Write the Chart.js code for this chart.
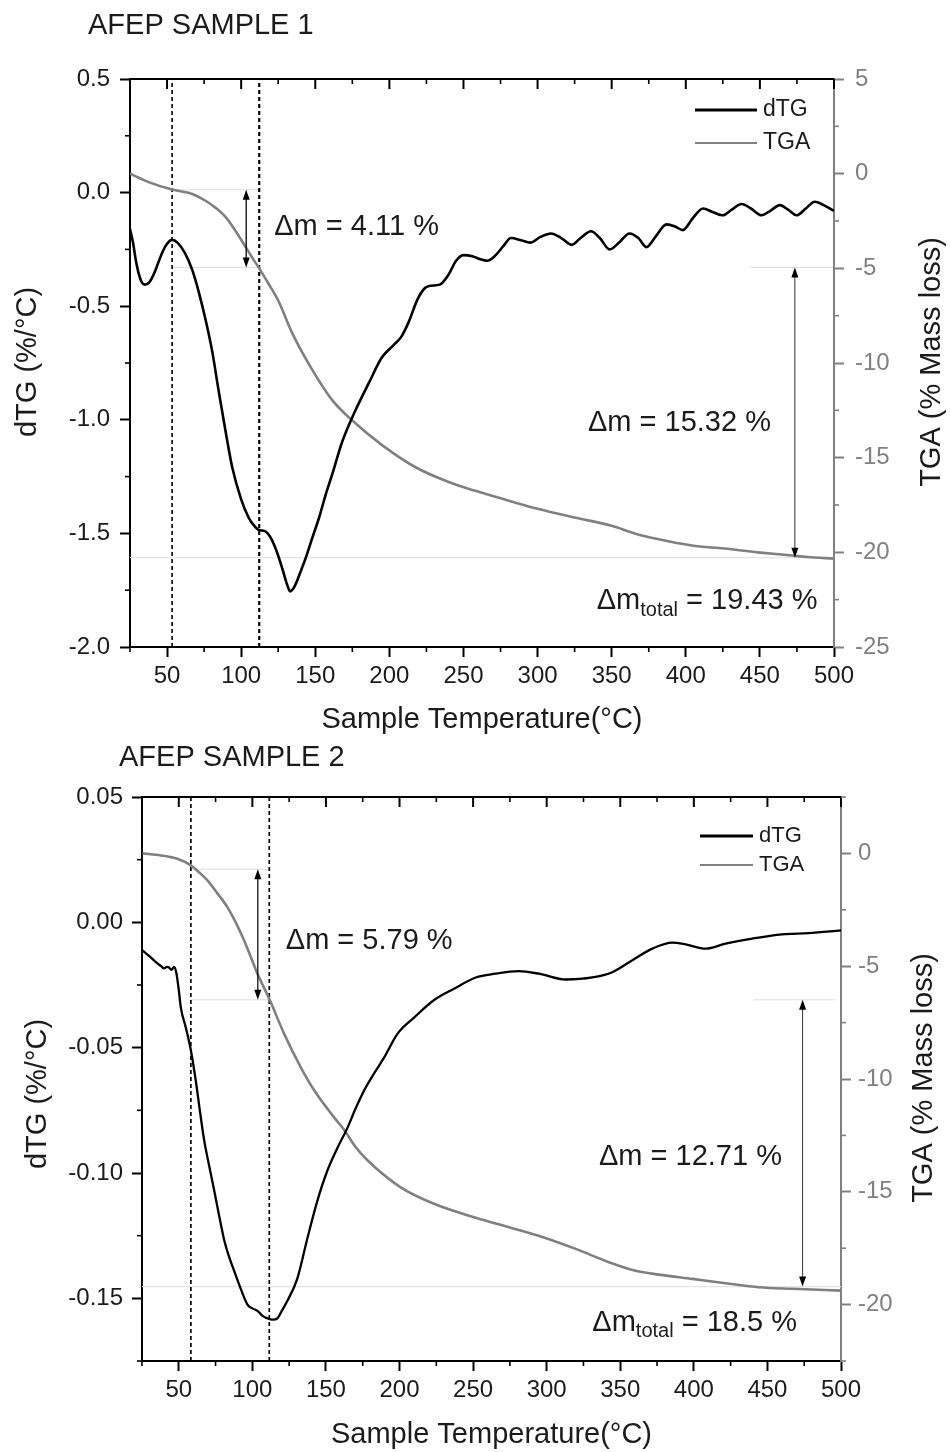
<!DOCTYPE html>
<html>
<head>
<meta charset="utf-8">
<title>AFEP thermogravimetry</title>
<script src="https://cdn.jsdelivr.net/npm/chart.js@4.4.1/dist/chart.umd.min.js"></script>
<style>
  html, body { margin: 0; padding: 0; background: #fff; }
  #wrap { position: relative; width: 950px; height: 1452px; }
  .panel { position: absolute; left: 0; width: 950px; }
  #p1 { top: 0; height: 740px; }
  #p2 { top: 740px; height: 712px; }
</style>
</head>
<body>
<div id="wrap">
  <div class="panel" id="p1"><canvas id="c1" width="950" height="740"></canvas></div>
  <div class="panel" id="p2"><canvas id="c2" width="950" height="712"></canvas></div>
</div>
<script>
// ---------- shared axis values ----------
const seriesNames = ['dTG', 'TGA'];
const xTickValues = [50, 100, 150, 200, 250, 300, 350, 400, 450, 500];
const xMinorValues = [25, 75, 125, 175, 225, 275, 325, 375, 425, 475];

// ---------- AFEP sample 1 ----------
const dtg1Temp = [25, 27, 29, 31, 33, 35, 38, 41, 44, 47, 50, 53.4, 57, 62, 67, 71.5, 76, 80.5, 85, 90,
  94, 100, 105, 108, 112, 116, 120, 124, 128, 131, 133, 135, 137, 140, 144, 148, 152.6, 157, 161.7, 168,
  177, 186, 195, 203, 208, 213, 219, 224, 228, 234, 240, 245, 250, 256, 262, 266, 271, 277, 282, 289,
  295, 302, 309, 316, 323, 329, 336, 342, 348.6, 355, 362, 368, 373.4, 380, 387, 393, 398, 405, 411.7, 418,
  425, 431, 437.6, 444, 451, 457, 463.5, 469, 474.8, 481, 487, 493, 500];
const dtg1Value = [-0.16, -0.22, -0.30, -0.36, -0.395, -0.405, -0.395, -0.36, -0.31, -0.26, -0.225, -0.208, -0.22, -0.265, -0.34, -0.44, -0.56, -0.70, -0.88, -1.07,
  -1.21, -1.35, -1.43, -1.46, -1.485, -1.49, -1.52, -1.58, -1.66, -1.725, -1.755, -1.745, -1.72, -1.67, -1.60, -1.52, -1.43, -1.33, -1.235, -1.10,
  -0.96, -0.84, -0.725, -0.67, -0.635, -0.57, -0.47, -0.42, -0.41, -0.405, -0.36, -0.30, -0.275, -0.28, -0.295, -0.30, -0.28, -0.235, -0.20, -0.21,
  -0.22, -0.195, -0.18, -0.20, -0.23, -0.20, -0.17, -0.20, -0.25, -0.22, -0.18, -0.20, -0.24, -0.19, -0.14, -0.15, -0.165, -0.11, -0.07, -0.085,
  -0.10, -0.075, -0.05, -0.07, -0.10, -0.08, -0.055, -0.075, -0.10, -0.07, -0.04, -0.055, -0.08];
const tga1Temp = [25, 38, 53.4, 67, 76, 83, 89.7, 96, 103.2, 108, 112.2, 118, 125, 134.7, 147, 161.7, 175, 195.3, 218, 240.5,
  257.4, 280, 300, 325, 350, 365.5, 381, 404, 426, 448.6, 471.6, 482, 500];
const tga1Value = [0, -0.46, -0.84, -1.07, -1.43, -1.82, -2.31, -3.0, -3.89, -4.5, -5.0, -5.75, -6.7, -8.46, -10.23, -11.99, -13.04, -14.35, -15.52, -16.3,
  -16.74, -17.26, -17.7, -18.16, -18.6, -19.0, -19.3, -19.64, -19.8, -20.0, -20.17, -20.25, -20.33];
const dtg1Ticks = [-2, -1.5, -1, -0.5, 0, 0.5];
const dtg1Minor = [-1.75, -1.25, -0.75, -0.25, 0.25];
const tga1Ticks = [-25, -20, -15, -10, -5, 0, 5];
const tga1Minor = [-22.5, -17.5, -12.5, -7.5, -2.5, 2.5];
const step1Temps = [53.4, 112.2];   // onset / end of the first mass-loss step
const step1Start = -0.85;           // TGA level at the first onset
const massLoss1 = [4.11, 15.32, 19.43];

// ---------- AFEP sample 2 ----------
const dtg2Temp = [25.3, 30, 35.5, 38, 40, 42, 43.3, 45, 46.8, 48.4, 50, 51.4, 54.8, 58.2, 61.5, 64.3, 67.2, 70.6, 74, 77.4,
  80.8, 84.2, 87.6, 92, 96.7, 100, 103.5, 107, 110.3, 114, 117, 120, 123.8, 130.6, 137.4, 144.2, 151, 157.8, 164.6, 170,
  176, 183, 189.5, 198.6, 209.9, 223.5, 237, 251.8, 265, 281, 294.8, 313, 331, 344.6, 358, 371.8, 385.4, 394.4, 408, 421.6,
  439.7, 460, 478, 500];
const dtg2Value = [-0.0112, -0.0135, -0.0164, -0.0175, -0.0184, -0.0178, -0.018, -0.019, -0.0178, -0.0204, -0.027, -0.034, -0.042, -0.051, -0.063, -0.075, -0.0868, -0.097, -0.1068, -0.117,
  -0.1266, -0.1335, -0.139, -0.146, -0.1525, -0.154, -0.155, -0.157, -0.158, -0.1585, -0.158, -0.155, -0.151, -0.142, -0.126, -0.111, -0.099, -0.090, -0.082, -0.0745,
  -0.067, -0.060, -0.054, -0.0445, -0.038, -0.031, -0.0265, -0.022, -0.0205, -0.0195, -0.0205, -0.0228, -0.022, -0.0199, -0.0152, -0.0105, -0.0081, -0.0088, -0.0105, -0.0085,
  -0.0065, -0.0048, -0.0043, -0.0032];
const tga2Temp = [25.3, 37.8, 49, 58.2, 64, 69.5, 76, 83, 89, 94.4, 99, 103.5, 112, 121.6, 132.9, 142, 155.5, 162.3, 170, 178.2,
  200.8, 223.4, 251.8, 274.4, 297, 319.7, 342.3, 360.5, 376.3, 399, 421.6, 444.2, 466.9, 500];
const tga2Value = [0, -0.09, -0.24, -0.53, -0.85, -1.2, -1.75, -2.38, -3.1, -3.86, -4.6, -5.34, -6.52, -8.0, -9.48, -10.5, -11.7, -12.25, -13.0, -13.6,
  -14.8, -15.53, -16.15, -16.57, -17.0, -17.53, -18.12, -18.5, -18.67, -18.86, -19.05, -19.23, -19.3, -19.38];
const dtg2Ticks = [-0.15, -0.1, -0.05, 0, 0.05];
const dtg2Minor = [-0.175, -0.125, -0.075, -0.025, 0.025];
const tga2Ticks = [-20, -15, -10, -5, 0];
const tga2Minor = [-22.5, -17.5, -12.5, -7.5, -2.5, 2.5];
const step2Temps = [58.2, 111.5];
const step2Start = -0.7;
const massLoss2 = [5.79, 12.71, 18.5];

// ---------- drawing ----------
const FONT = '"Liberation Sans", Arial, Helvetica, sans-serif';
const INK = '#1b1b1b';
const GREY = '#808080';
const TITLE_PX = 29;
Chart.defaults.font.family = FONT;
Chart.defaults.color = INK;

const pts = (xs, ys) => xs.map((x, i) => ({ x, y: ys[i] }));

function decorFor(spec) {
  return {
    id: 'decor',
    afterDraw(chart) {
      const { ctx, chartArea: ca } = chart;
      const sx = chart.scales.x, sy = chart.scales.y, sr = chart.scales.y2;
      const seg = (x1, y1, x2, y2, color, w) => {
        ctx.beginPath(); ctx.strokeStyle = color; ctx.lineWidth = w;
        ctx.moveTo(x1, y1); ctx.lineTo(x2, y2); ctx.stroke();
      };
      const head = (x, y, dir) => {
        ctx.beginPath(); ctx.fillStyle = '#000';
        ctx.moveTo(x, y); ctx.lineTo(x - 3.5, y - dir * 10); ctx.lineTo(x + 3.5, y - dir * 10);
        ctx.closePath(); ctx.fill();
      };
      ctx.save();
      // top frame with inward ticks
      seg(ca.left - 1, ca.top, ca.right, ca.top, '#000', 2);
      xTickValues.forEach(v => { const p = sx.getPixelForValue(v); seg(p, ca.top, p, ca.top + 10, '#000', 2); });
      xMinorValues.forEach(v => {
        const p = sx.getPixelForValue(v);
        seg(p, ca.top, p, ca.top + 5, '#000', 1.6);
        seg(p, ca.bottom, p, ca.bottom + 5, '#000', 1.6);
      });
      spec.leftMinor.forEach(v => { const p = sy.getPixelForValue(v); seg(ca.left - 5, p, ca.left, p, '#000', 1.6); });
      spec.rightMinor.forEach(v => { const p = sr.getPixelForValue(v); seg(ca.right, p, ca.right + 5, p, GREY, 1.6); });

      // mass-loss arrows
      const lv = spec.levels;
      spec.arrows.forEach((a, i) => {
        const px = sx.getPixelForValue(a.t);
        const y1 = sr.getPixelForValue(lv[i]), y2 = sr.getPixelForValue(lv[i + 1]);
        seg(px, y1 + 4, px, y2 - 4, a.color, a.w);
        head(px, y1, -1); head(px, y2, 1);
      });

      // mass-loss labels
      ctx.fillStyle = INK; ctx.textBaseline = 'middle'; ctx.textAlign = 'left';
      const big = TITLE_PX + 'px ' + FONT, small = '20px ' + FONT;
      spec.labels.forEach(l => {
        let x = sx.getPixelForValue(l.t);
        const y = sy.getPixelForValue(l.v);
        ctx.font = big;
        if (l.sub) {
          ctx.fillText('\u0394m', x, y); x += ctx.measureText('\u0394m').width;
          ctx.font = small; ctx.fillText(l.sub, x, y + 9); x += ctx.measureText(l.sub).width;
          ctx.font = big; ctx.fillText(' = ' + l.value + ' %', x, y);
        } else {
          ctx.fillText('\u0394m = ' + l.value + ' %', x, y);
        }
      });

      // legend
      const lg = spec.legend;
      ctx.font = lg.size + 'px ' + FONT;
      chart.data.datasets.forEach((ds, i) => {
        if (!seriesNames.includes(ds.label)) return;
        const y = ca.top + lg.rows[i];
        seg(ca.right - lg.lineFrom, y, ca.right - lg.lineTo, y, ds.borderColor, i === 0 ? 3 : 2.2);
        ctx.fillStyle = INK;
        ctx.fillText(ds.label, ca.right - lg.textAt, y);
      });

      // chart title
      ctx.font = TITLE_PX + 'px ' + FONT; ctx.fillStyle = INK;
      ctx.fillText(spec.title, spec.titleX, spec.titleY);

      // y-axis titles, both reading upward
      ctx.textAlign = 'center';
      [[spec.leftTitle, spec.leftTitleX, spec.leftTitleY], [spec.rightTitle, spec.rightTitleX, spec.rightTitleY]].forEach(([t, x, y]) => {
        ctx.save(); ctx.translate(x, y); ctx.rotate(-Math.PI / 2); ctx.fillText(t, 0, 0); ctx.restore();
      });
      ctx.restore();
    }
  };
}

function makeChart(id, spec) {
  const lv = spec.levels;
  const guide = (data, axis, color, w, dash) => ({
    label: '', data, yAxisID: axis, borderColor: color, borderWidth: w, borderDash: dash || [],
    pointRadius: 0, tension: 0, fill: false
  });
  const datasets = [
    { label: seriesNames[0], data: pts(spec.dtgT, spec.dtg), yAxisID: 'y', borderColor: '#000', borderWidth: spec.dtgWidth,
      pointRadius: 0, cubicInterpolationMode: 'monotone', fill: false },
    { label: seriesNames[1], data: pts(spec.tgaT, spec.tga), yAxisID: 'y2', borderColor: GREY, borderWidth: 2.6,
      pointRadius: 0, cubicInterpolationMode: 'monotone', fill: false },
    // step boundaries
    guide([{ x: spec.stepT[0], y: spec.yMin }, { x: spec.stepT[0], y: spec.yMax }], 'y', '#000', spec.dashWidth[0], [4, 3]),
    guide([{ x: spec.stepT[1], y: spec.yMin }, { x: spec.stepT[1], y: spec.yMax }], 'y', '#000', spec.dashWidth[1], [4, 3]),
    // TGA levels used for the mass-loss readings
    guide([{ x: spec.stepT[0], y: lv[0] }, { x: spec.stepT[1], y: lv[0] }], 'y2', '#dedede', 1),
    guide([{ x: spec.stepT[0], y: lv[1] }, { x: spec.stepT[1], y: lv[1] }], 'y2', '#dedede', 1),
    guide([{ x: spec.shelfFrom, y: lv[1] }, { x: spec.shelfTo, y: lv[1] }], 'y2', '#dedede', 1),
    guide([{ x: 25, y: lv[2] }, { x: 500, y: lv[2] }], 'y2', '#e4e4e4', 1.2)
  ];
  const tickFont = { family: FONT, size: 24 };
  return new Chart(document.getElementById(id), {
    type: 'line',
    data: { datasets },
    options: {
      responsive: false, animation: false, events: [],
      layout: { padding: { top: spec.padTop, left: 0, right: 0, bottom: 0 } },
      plugins: { legend: { display: false }, tooltip: { enabled: false }, title: { display: false } },
      scales: {
        x: {
          type: 'linear', position: 'bottom', min: 25, max: 500,
          afterBuildTicks: s => { s.ticks = xTickValues.map(v => ({ value: v })); },
          afterFit: s => { s.height = spec.xHeight; },
          ticks: { font: tickFont, color: INK, padding: 5, maxRotation: 0, autoSkip: false, callback: v => String(v) },
          grid: { drawOnChartArea: false, drawTicks: true, tickLength: 10, tickWidth: 2, tickColor: '#000' },
          border: { display: true, color: '#000', width: 2 },
          title: { display: true, text: 'Sample Temperature(°C)', font: { family: FONT, size: TITLE_PX }, color: INK,
                   padding: { top: 0, bottom: spec.xTitlePad } }
        },
        y: {
          type: 'linear', position: 'left', min: spec.yMin, max: spec.yMax,
          afterBuildTicks: s => { s.ticks = spec.yTicks.map(v => ({ value: v })); },
          afterFit: s => { s.width = spec.leftWidth; },
          ticks: { font: tickFont, color: INK, padding: spec.leftPad, autoSkip: false, callback: v => v.toFixed(spec.yDec) },
          grid: { drawOnChartArea: false, drawTicks: true, tickLength: 10, tickWidth: 2, tickColor: '#000' },
          border: { display: true, color: '#000', width: 2 }
        },
        y2: {
          type: 'linear', position: 'right', min: spec.y2Min, max: spec.y2Max,
          afterBuildTicks: s => { s.ticks = spec.y2Ticks.map(v => ({ value: v })); },
          afterFit: s => { s.width = spec.rightWidth; },
          ticks: { font: tickFont, color: GREY, padding: spec.rightPad, autoSkip: false, callback: v => String(v) },
          grid: { drawOnChartArea: false, drawTicks: true, tickLength: 10, tickWidth: 2, tickColor: GREY },
          border: { display: true, color: GREY, width: 2 }
        }
      }
    },
    plugins: [decorFor(spec)]
  });
}

const levels = (start, loss) => [start, start - loss[0], start - loss[0] - loss[1]];

makeChart('c1', {
  title: 'AFEP SAMPLE 1', titleX: 88, titleY: 26,
  dtgT: dtg1Temp, dtg: dtg1Value, tgaT: tga1Temp, tga: tga1Value, dtgWidth: 2.6,
  yMin: -2, yMax: 0.5, yTicks: dtg1Ticks, leftMinor: dtg1Minor, yDec: 1,
  y2Min: -25, y2Max: 5, y2Ticks: tga1Ticks, rightMinor: tga1Minor,
  stepT: step1Temps, levels: levels(step1Start, massLoss1), shelfFrom: 443, shelfTo: 499.3, dashWidth: [1.6, 2.2],
  arrows: [{ t: 103.4, color: '#000', w: 1.3 }, { t: 473.6, color: '#333', w: 1 }],
  labels: [
    { t: 122.3, v: -0.150, value: massLoss1[0] },
    { t: 334.0, v: -1.015, value: massLoss1[1] },
    { t: 339.9, v: -1.799, value: massLoss1[2], sub: 'total' }
  ],
  legend: { size: 23, rows: [31, 64], lineFrom: 139, lineTo: 77, textAt: 71 },
  padTop: 79, xHeight: 93, leftWidth: 130, rightWidth: 116, leftPad: 10, rightPad: 11, xTitlePad: 3,
  leftTitle: 'dTG (%/°C)', leftTitleX: 28, leftTitleY: 362,
  rightTitle: 'TGA (% Mass loss)', rightTitleX: 932, rightTitleY: 362
});

makeChart('c2', {
  title: 'AFEP SAMPLE 2', titleX: 119, titleY: 18,
  dtgT: dtg2Temp, dtg: dtg2Value, tgaT: tga2Temp, tga: tga2Value, dtgWidth: 2.3,
  yMin: -0.175, yMax: 0.05, yTicks: dtg2Ticks, leftMinor: dtg2Minor, yDec: 2,
  y2Min: -22.5, y2Max: 2.5, y2Ticks: tga2Ticks, rightMinor: tga2Minor,
  stepT: step2Temps, levels: levels(step2Start, massLoss2), shelfFrom: 440.6, shelfTo: 496.3, dashWidth: [1.7, 1.7],
  arrows: [{ t: 103.7, color: '#000', w: 1.2 }, { t: 473.9, color: '#333', w: 1 }],
  labels: [
    { t: 122.7, v: -0.0074, value: massLoss2[0] },
    { t: 335.5, v: -0.0935, value: massLoss2[1] },
    { t: 331.0, v: -0.1597, value: massLoss2[2], sub: 'total' }
  ],
  legend: { size: 22, rows: [39, 68], lineFrom: 141, lineTo: 88, textAt: 82 },
  padTop: 57, xHeight: 91, leftWidth: 142, rightWidth: 109, leftPad: 9, rightPad: 7, xTitlePad: 0,
  leftTitle: 'dTG (%/°C)', leftTitleX: 38, leftTitleY: 354,
  rightTitle: 'TGA (% Mass loss)', rightTitleX: 924, rightTitleY: 338
});
</script>
</body>
</html>
